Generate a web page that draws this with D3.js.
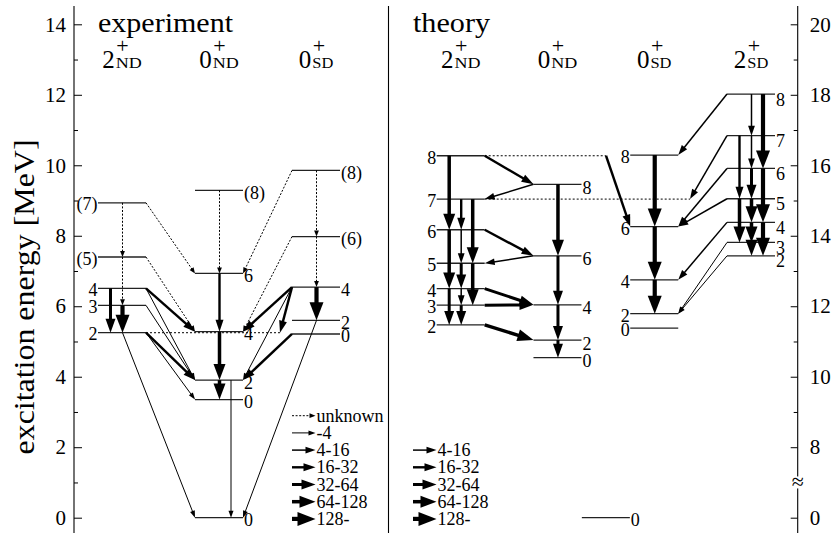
<!DOCTYPE html>
<html><head><meta charset="utf-8">
<script src="https://cdn.jsdelivr.net/npm/d3@7"></script>
<style>
body{margin:0;background:#fff}
</style></head>
<body><svg id="c" width="833" height="533"></svg>
<script>
const FAMILY = '"Liberation Serif", "Times New Roman", Times, serif';
// ================= DATA =================
// experiment levels: [band, spin label, energy MeV]
const expLevels = [
  ["2ND","2",5.249],["2ND","3",6.025],["2ND","4",6.508],["2ND","(5)",7.397],["2ND","(7)",8.935],
  ["0ND","0",3.353],["0ND","2",3.904],["0ND","4",5.279],["0ND","6",6.930],["0ND","(8)",9.29],
  ["GS","0",0],
  ["0SD","0",5.213],["0SD","2",5.60],["0SD","4",6.543],["0SD","(6)",7.977],["0SD","(8)",9.854]
];
// theory levels: [band, spin label, energy MeV]
const thLevels = [
  ["2ND","2",11.47],["2ND","3",12.03],["2ND","4",12.50],["2ND","5",13.22],["2ND","6",14.17],["2ND","7",15.04],["2ND","8",16.27],
  ["0ND","0",10.54],["0ND","2",11.04],["0ND","4",12.04],["0ND","6",13.43],["0ND","8",15.46],
  ["GS","0",0],
  ["0SD","0",11.38],["0SD","2",11.79],["0SD","4",12.75],["0SD","6",14.26],["0SD","8",16.29],
  ["2SD","2",13.43],["2SD","3",13.81],["2SD","4",14.38],["2SD","5",15.05],["2SD","6",15.91],["2SD","7",16.84],["2SD","8",18.02]
];
// band headers: [band, main, superscript, subscript]
const expHeaders = [["2ND","2","+","ND"],["0ND","0","+","ND"],["0SD","0","+","SD"]];
const thHeaders  = [["2ND","2","+","ND"],["0ND","0","+","ND"],["0SD","0","+","SD"],["2SD","2","+","SD"]];
// dotted level continuations: [band, spin, reaches to band slot]
const expExtensions = [["2ND","2",1.876]];
const thExtensions  = [["2ND","8",1.75],["2ND","7",2.618]];
// transitions: [fromBand, fromJ, toBand, toJ, intensity class (0=unknown,1=-4,...,6=128-), column / route]
const expTransitions = [
  ["2ND","(7)","2ND","(5)",0,1],["2ND","(5)","2ND","3",0,1],
  ["2ND","4","2ND","2",4,0],["2ND","3","2ND","2",6,1],
  ["2ND","(7)","0ND","6",0],["2ND","(5)","0ND","4",0],
  ["2ND","4","0ND","4",3],["2ND","4","0ND","2",1],["2ND","3","0ND","2",1],
  ["2ND","2","0ND","2",3],["2ND","2","0ND","0",1],["2ND","2","GS","0",1,1],
  ["0ND","(8)","0ND","6",0,1],["0ND","6","0ND","4",3,1],["0ND","4","0ND","2",5,1],
  ["0ND","2","0ND","0",5,1],["0ND","2","GS","0",1,2],
  ["0SD","(8)","0SD","(6)",0,1],["0SD","(6)","0SD","4",0,1],["0SD","4","0SD","2",6,1],
  ["0SD","(8)","0ND","6",0],["0SD","(6)","0ND","4",0],
  ["0SD","4","0ND","4",3],["0SD","4","2ND","2",3,"toExt"],["0SD","4","0ND","2",1],
  ["0SD","0","0ND","2",3],["0SD","2","GS","0",1,1]
];
const thTransitions = [
  ["2ND","8","2ND","6",5,0],["2ND","6","2ND","4",5,0],["2ND","4","2ND","2",4,0],
  ["2ND","7","2ND","6",3,1],["2ND","6","2ND","5",2,1],["2ND","5","2ND","4",4,1],
  ["2ND","4","2ND","3",2,1],["2ND","3","2ND","2",4,1],
  ["2ND","7","2ND","5",5,2],["2ND","5","2ND","3",5,2],
  ["2ND","8","0ND","8",3],["0ND","8","2ND","7",2],["2ND","6","0ND","6",3],["0ND","6","2ND","5",2],
  ["2ND","4","0ND","4",4],["2ND","3","0ND","4",4],["2ND","2","0ND","2",5],
  ["2ND","8","0SD","6",3,"fromExt"],
  ["0ND","8","0ND","6",5,1],["0ND","6","0ND","4",4,1],["0ND","4","0ND","2",4,1],["0ND","2","0ND","0",4,1],
  ["0SD","8","0SD","6",6,1],["0SD","6","0SD","4",6,1],["0SD","4","0SD","2",6,1],
  ["2SD","8","2SD","7",2,1],["2SD","7","2SD","6",2,1],["2SD","6","2SD","5",4,1],
  ["2SD","5","2SD","4",5,1],["2SD","4","2SD","3",5,1],["2SD","3","2SD","2",5,1],
  ["2SD","8","2SD","6",6,2],["2SD","6","2SD","4",6,2],["2SD","4","2SD","2",6,2],
  ["2SD","7","2SD","5",3,0],["2SD","5","2SD","3",5,0],
  ["2SD","8","0SD","8",2],["2SD","7","2ND","7",2,"toExt"],["2SD","6","0SD","6",2],["2SD","5","0SD","6",2],
  ["2SD","4","0SD","4",2],["2SD","3","0SD","2",1],["2SD","2","0SD","2",1]
];
// legends: [label, intensity class]
const expLegend = [["unknown",0],["-4",1],["4-16",2],["16-32",3],["32-64",4],["64-128",5],["128-",6]];
const thLegend  = [["4-16",2],["16-32",3],["32-64",4],["64-128",5],["128-",6]];
// axes
const leftTicks = [0,2,4,6,8,10,12,14];
const leftMinor = [1,3,5,7,9,11,13];
const rightTicks = [0,8,10,12,14,16,18,20];
const rightMinor = [9,11,13,15,17,19];

// ================= LAYOUT / STYLE =================
const svg = d3.select("#c").attr("font-family",FAMILY);
const yExp = d3.scaleLinear().domain([0,14]).range([517.7,24.3]);
const yTh  = d3.scaleLinear().domain([0,8,20]).range([yExp(0),yExp(2),yExp(14)]);
const expSlots = {"2ND":0,"0ND":1,"GS":1,"0SD":2};
const thSlots  = {"2ND":0,"0ND":1,"GS":1.5,"0SD":2,"2SD":3};
const expX = d3.scaleLinear().domain([0,2]).range([98,292]);
const thX  = d3.scaleLinear().domain([0,3]).range([436.7,727]);
const LW = 48;
const colOff = [12.5,24.5,36];
const styles = [
  {lw:1,  hl:6,  hw:2.4, dash:"2,1.6"},
  {lw:1,  hl:7,  hw:2.5},
  {lw:1.5,hl:10, hw:3.4},
  {lw:2.4,hl:12, hw:4},
  {lw:3,  hl:14, hw:5},
  {lw:3.5,hl:16, hw:6},
  {lw:4.2,hl:18, hw:7}
];
const FONT_LBL = 18;

function T(sel){ return sel.append("text").attr("font-family",FAMILY).attr("fill","#000"); }

function arrow(g,x1,y1,x2,y2,cls){
  const s = styles[cls];
  const dx=x2-x1, dy=y2-y1, len=Math.hypot(dx,dy), ux=dx/len, uy=dy/len;
  const bx=x2-ux*s.hl, by=y2-uy*s.hl;
  g.append("line").attr("x1",x1).attr("y1",y1).attr("x2",bx+ux).attr("y2",by+uy)
    .attr("stroke","#000").attr("stroke-width",s.lw)
    .attr("stroke-dasharray",s.dash||null);
  g.append("path").attr("d",d3.line()([[x2,y2],[bx-uy*s.hw,by+ux*s.hw],[bx+uy*s.hw,by-ux*s.hw]])+"Z")
    .attr("fill","#000");
}

function drawSide(cfg){
  const g = svg.append("g");
  const key=(b,j)=>b+"|"+j;
  const lv = new Map(cfg.levels.map(d=>[key(d[0],d[1]),d]));
  const bx = b=>cfg.x(cfg.slots[b]);
  const ly = (b,j)=>cfg.y(lv.get(key(b,j))[2]);
  const ext = new Map(cfg.extensions.map(d=>[key(d[0],d[1]),d[2]]));
  cfg.extensions.forEach(d=>{
    g.append("line").attr("x1",bx(d[0])+LW).attr("x2",cfg.x(d[2]))
      .attr("y1",ly(d[0],d[1])).attr("y2",ly(d[0],d[1]))
      .attr("stroke","#000").attr("stroke-width",1).attr("stroke-dasharray","2,2");
  });
  cfg.levels.forEach(d=>{
    const x0=bx(d[0]), yy=cfg.y(d[2]);
    g.append("line").attr("x1",x0).attr("x2",x0+LW).attr("y1",yy).attr("y2",yy)
      .attr("stroke","#222").attr("stroke-width",1.3);
    const side = cfg.labelSide[d[0]];
    T(g).attr("x", side==="left"? x0-0.5 : x0+LW+1)
      .attr("y", yy + cfg.labelDy[d[0]])
      .attr("text-anchor", side==="left"?"end":"start")
      .attr("font-size",FONT_LBL).text(d[1]);
  });
  cfg.transitions.forEach(t=>{
    const [fb,fj,tb,tj,cls,route]=t;
    const y1=ly(fb,fj), y2=ly(tb,tj);
    let x1,x2;
    const sf=cfg.slots[fb], st=cfg.slots[tb];
    if(route==="fromExt"){
      const sx=ext.get(key(fb,fj)); x1=cfg.x(sx);
      x2 = st>sx ? bx(tb) : bx(tb)+LW;
    } else if(route==="toExt"){
      const sx=ext.get(key(tb,tj)); x2=cfg.x(sx);
      x1 = sf>sx ? bx(fb) : bx(fb)+LW;
    } else if(typeof route==="number"){
      x1 = bx(fb)+colOff[route];
      if(st===sf) x2=x1;
      else x2 = st>sf ? bx(tb) : bx(tb)+LW;
    } else {
      if(st>sf){ x1=bx(fb)+LW; x2=bx(tb); } else { x1=bx(fb); x2=bx(tb)+LW; }
    }
    arrow(g,x1,y1,x2,y2,cls);
  });
  cfg.headers.forEach(h=>{
    const cx = bx(h[0])+LW/2;
    const hg = g.append("g");
    const m = T(hg).attr("y",67.7).attr("font-size",25).text(h[1]);
    const sup = T(hg).attr("y",53).attr("font-size",22).text(h[2]);
    const sw = h[3]==="ND"?26:21;
    const sub = T(hg).attr("y",68.3).attr("font-size",15)
      .attr("textLength",sw).attr("lengthAdjust","spacingAndGlyphs").text(h[3]);
    const mw = m.node().getComputedTextLength();
    const x0 = cx - (mw+sw+1)/2;
    m.attr("x",x0); sup.attr("x",x0+mw+1.5); sub.attr("x",x0+mw+1);
  });
  cfg.legend.forEach(([lab,cls])=>{
    const yy = 415.7 + 17.2*cls;
    arrow(g,cfg.legX,yy,cfg.legX+23.5,yy,cls);
    T(g).attr("x",cfg.legX+24.5).attr("y",yy+6).attr("font-size",18).text(lab);
  });
  T(g).attr("x",cfg.titleX).attr("y",31.5).attr("font-size",28)
    .attr("textLength",cfg.titleLen).attr("lengthAdjust","spacingAndGlyphs").text(cfg.title);
}

drawSide({levels:expLevels, transitions:expTransitions, extensions:expExtensions, headers:expHeaders,
  slots:expSlots, x:expX, y:yExp,
  labelSide:{"2ND":"left","0ND":"right","GS":"right","0SD":"right"},
  labelDy:{"2ND":7.5,"0ND":8.5,"GS":8.5,"0SD":8.5},
  legend:expLegend, legX:292, title:"experiment", titleX:98, titleLen:135});
drawSide({levels:thLevels, transitions:thTransitions, extensions:thExtensions, headers:thHeaders,
  slots:thSlots, x:thX, y:yTh,
  labelSide:{"2ND":"left","0ND":"right","GS":"right","0SD":"left","2SD":"right"},
  labelDy:{"2ND":8,"0ND":9.5,"GS":8.7,"0SD":8,"2SD":11.5},
  legend:thLegend, legX:413, title:"theory", titleX:413, titleLen:77});

// ================= AXES =================
const AX_L=74, AX_R=797.7, AX_M=388.5;
[AX_L,AX_M,AX_R].forEach(x=>svg.append("line").attr("x1",x).attr("x2",x).attr("y1",6).attr("y2",533)
  .attr("stroke","#000").attr("stroke-width",1.1));
const gl = svg.append("g").attr("transform",`translate(${AX_L},0)`)
  .call(d3.axisLeft(yExp).tickValues(leftTicks).tickSizeInner(-8).tickSizeOuter(0).tickPadding(8));
const glm = svg.append("g").attr("transform",`translate(${AX_L},0)`)
  .call(d3.axisLeft(yExp).tickValues(leftMinor).tickSizeInner(-4).tickSizeOuter(0).tickFormat(""));
const gr = svg.append("g").attr("transform",`translate(${AX_R},0)`)
  .call(d3.axisRight(yTh).tickValues(rightTicks).tickSizeInner(-7).tickSizeOuter(0).tickPadding(12));
const grm = svg.append("g").attr("transform",`translate(${AX_R},0)`)
  .call(d3.axisRight(yTh).tickValues(rightMinor).tickSizeInner(-4).tickSizeOuter(0).tickFormat(""));
[gl,glm,gr,grm].forEach(g=>{
  g.attr("font-family",FAMILY).attr("font-size",21);
  g.select(".domain").remove();
  g.selectAll("text").attr("font-family",FAMILY).attr("font-size",21).attr("fill","#000");
  g.selectAll("line").attr("stroke","#000");
});
// axis break
const yb = (yTh(0)+yTh(8))/2;
svg.append("rect").attr("x",AX_R-5).attr("y",yb-6).attr("width",10).attr("height",12).attr("fill","#fff");
T(svg).attr("x",AX_R).attr("y",yb+7).attr("text-anchor","middle").attr("font-size",22).text("≈");
// y label
T(svg).attr("transform",`translate(33.5,297) rotate(-90)`).attr("text-anchor","middle")
  .attr("font-size",29).attr("textLength",315).attr("lengthAdjust","spacingAndGlyphs")
  .text("excitation energy [MeV]");
</script></body></html>
